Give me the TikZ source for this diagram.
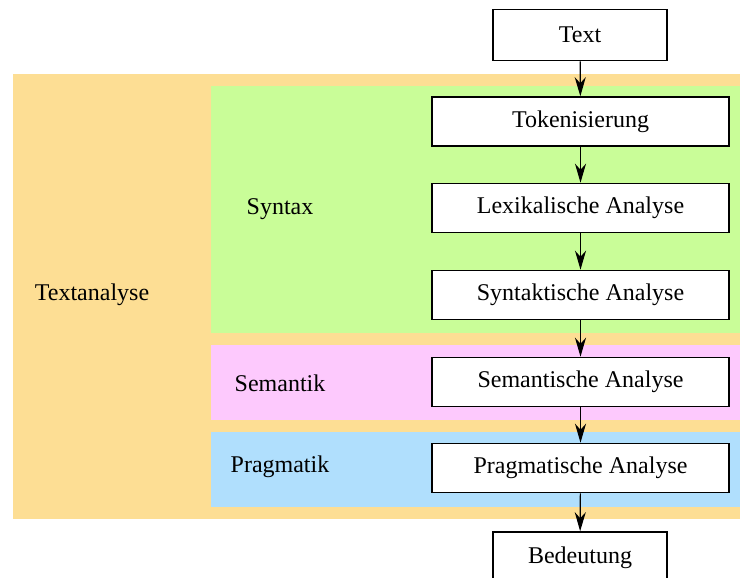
\documentclass[tikz,border=0pt]{standalone}
\usepackage{fontspec}
\setmainfont{Liberation Serif}
\usetikzlibrary{arrows.meta}
\definecolor{clOrange}{HTML}{FDDE94}
\definecolor{clGreen}{HTML}{C9FD98}
\definecolor{clPink}{HTML}{FDC9FD}
\definecolor{clBlue}{HTML}{B0DFFD}
\tikzset{
  proc/.style={draw=black, fill=white, line width=1.6pt, rectangle,
    minimum width=297pt, minimum height=49pt, inner sep=0pt,
    font=\fontsize{24}{28}\selectfont},
  endbox/.style={proc, minimum width=174pt, minimum height=51pt},
  lbl/.style={font=\fontsize{24}{28}\selectfont, inner sep=0pt},
  flow/.style={line width=1.2pt, -{Stealth[length=19pt, width=11pt, inset=6pt]}}
}
\begin{document}
\begin{tikzpicture}[x=1pt, y=-1pt]
  \useasboundingbox (0,0) rectangle (740,578);
  % clusters
  \fill[clOrange] (13,74) rectangle (740,519);
  \fill[clGreen] (211,86) rectangle (740,333);
  \fill[clPink] (211,345) rectangle (740,420);
  \fill[clBlue] (211,432) rectangle (740,507);
  % cluster labels
  \node[lbl] (lTextanalyse) at (92,295) {Textanalyse};
  \node[lbl] (lSyntax) at (280,209) {Syntax};
  \node[lbl] (lSemantik) at (280,383) {Semantik};
  \node[lbl] (lPragmatik) at (280,467) {Pragmatik};
  % processing steps
  \node[endbox] (text) at (580,35) {Text};
  \node[proc] (tok) at (580.5,121.5) {Tokenisierung};
  \node[proc] (lex) at (580.5,208) {Lexikalische Analyse};
  \node[proc] (syn) at (580.5,295) {Syntaktische Analyse};
  \node[proc] (sem) at (580.5,382) {Semantische Analyse};
  \node[proc] (prag) at (580.5,468) {Pragmatische Analyse};
  \node[endbox] (bed) at (580,557.5) {Bedeutung};
  % connectors
  \draw[flow] (text) -- (tok);
  \draw[flow] (tok) -- (lex);
  \draw[flow] (lex) -- (syn);
  \draw[flow] (syn) -- (sem);
  \draw[flow] (sem) -- (prag);
  \draw[flow] (prag) -- (bed);
\end{tikzpicture}
\end{document}
